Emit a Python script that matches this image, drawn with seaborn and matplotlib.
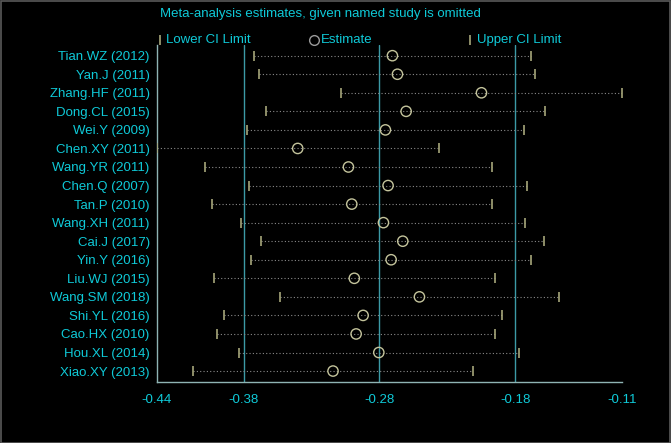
import numpy as np
import pandas as pd
import seaborn as sns
import matplotlib.pyplot as plt
from matplotlib.lines import Line2D
from matplotlib.patches import Rectangle

# Data (study omitted -> pooled estimate and CI)
studies = ["Tian.WZ (2012)", "Yan.J (2011)", "Zhang.HF (2011)", "Dong.CL (2015)",
           "Wei.Y (2009)", "Chen.XY (2011)", "Wang.YR (2011)", "Chen.Q (2007)",
           "Tan.P (2010)", "Wang.XH (2011)", "Cai.J (2017)", "Yin.Y (2016)",
           "Liu.WJ (2015)", "Wang.SM (2018)", "Shi.YL (2016)", "Cao.HX (2010)",
           "Hou.XL (2014)", "Xiao.XY (2013)"]
lower = [-0.3705, -0.3667, -0.3084, -0.3619, -0.3757, -0.4400, -0.4057, -0.3739,
         -0.4005, -0.3796, -0.3655, -0.3724, -0.3993, -0.3517, -0.3919, -0.3969,
         -0.3814, -0.4143]
estimate = [-0.2717, -0.2681, -0.2081, -0.2619, -0.2767, -0.3393, -0.3031, -0.2748,
            -0.3007, -0.2781, -0.2643, -0.2726, -0.2989, -0.2524, -0.2926, -0.2976,
            -0.2814, -0.3141]
upper = [-0.1726, -0.1696, -0.1079, -0.1624, -0.1776, -0.2381, -0.2005, -0.1757,
         -0.2007, -0.1767, -0.1634, -0.1726, -0.1984, -0.1529, -0.1934, -0.1981,
         -0.1814, -0.2139]

# overall pooled lower CI, estimate, upper CI (reference lines)
overall = [-0.378, -0.281, -0.184]
tick_pos = [-0.44, -0.378, -0.281, -0.184, -0.108]
tick_labels = ["-0.44", "-0.38", "-0.28", "-0.18", "-0.11"]

df = pd.DataFrame({"study": studies, "lower": lower, "estimate": estimate, "upper": upper})
df["row"] = np.arange(len(df))

sns.set_style("dark")
plt.rcParams["font.family"] = ["Liberation Sans", "DejaVu Sans"]

cyan = "#0fcad8"
spine_col = "#8fb4b4"
ref_col = "#3c9aa6"
mark_col = "#a6a67a"
circ_col = "#c4c49c"

fig = plt.figure(figsize=(6.71, 4.43), dpi=100, facecolor="black")
ax = fig.add_axes([0.2335, 0.1377, 0.693, 0.7613])
ax.set_facecolor("black")

# reference lines
for v in overall:
    ax.axvline(v, color=ref_col, lw=1.0, zorder=1)

# dotted CI lines
ax.hlines(df["row"], df["lower"], df["upper"], colors="#8a8a8a", linestyles=(0, (1, 2)), lw=0.8, zorder=2)

# CI end markers
ax.plot(df["lower"], df["row"], ls="none", marker="|", ms=7.5, mew=1.2, color=mark_col, zorder=3)
ax.plot(df["upper"], df["row"], ls="none", marker="|", ms=7.5, mew=1.2, color=mark_col, zorder=3)

# estimates
sns.scatterplot(data=df, x="estimate", y="row", ax=ax, marker="o", s=55,
                facecolor="none", edgecolor=circ_col, linewidth=1.0, zorder=4, legend=False)

ax.set_xlim(-0.44, -0.108)
ax.set_ylim(17.59, -0.59)
ax.set_yticks(df["row"])
ax.set_yticklabels(studies)
ax.set_xticks(tick_pos)
ax.set_xticklabels(tick_labels)
ax.set_xlabel("")
ax.set_ylabel("")
ax.grid(False)

ax.tick_params(axis="y", length=0, pad=5, labelcolor=cyan, labelsize=9.5)
ax.tick_params(axis="x", direction="out", length=6, width=1, color=spine_col,
               pad=3, labelcolor=cyan, labelsize=9.5)

for side in ["top", "right"]:
    ax.spines[side].set_visible(False)
for side in ["left", "bottom"]:
    ax.spines[side].set_visible(True)
    ax.spines[side].set_color(spine_col)
    ax.spines[side].set_linewidth(1.0)

# title and legend row
fig.text(0.2385, 0.968, "Meta-analysis estimates, given named study is omitted",
         color=cyan, fontsize=9.5, ha="left", va="center")
ly = 0.910
fig.add_artist(Line2D([159.5 / 671], [ly], marker="|", ms=7.5, mew=1.2, color=mark_col, ls="none"))
fig.text(166 / 671, ly, "Lower CI Limit", color=cyan, fontsize=9.5, ha="left", va="center")
fig.add_artist(Line2D([314 / 671], [ly], marker="o", ms=7, mew=1.0, mfc="none", mec="#9a9a9a", ls="none"))
fig.text(321 / 671, ly, "Estimate", color=cyan, fontsize=9.5, ha="left", va="center")
fig.add_artist(Line2D([470 / 671], [ly], marker="|", ms=7.5, mew=1.2, color=mark_col, ls="none"))
fig.text(477 / 671, ly, "Upper CI Limit", color=cyan, fontsize=9.5, ha="left", va="center")

# thin frame round the figure
fig.add_artist(Rectangle((0.001, 0.001), 0.997, 0.997, transform=fig.transFigure,
                         fill=False, edgecolor="#5a5a5a", lw=1.2))

fig.savefig("out.png", dpi=100, facecolor="black")
